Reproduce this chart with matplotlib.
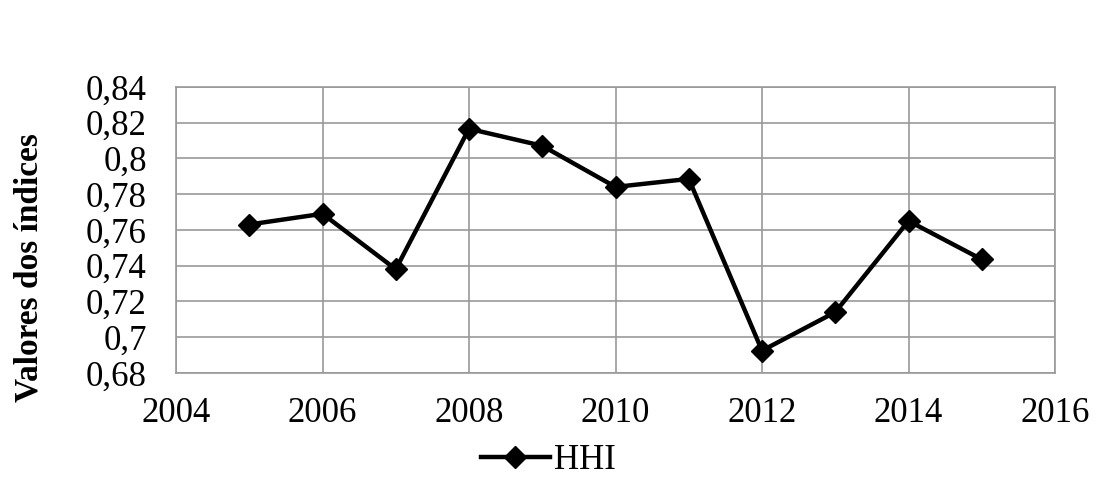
import matplotlib
matplotlib.use("Agg")
import matplotlib.pyplot as plt
from matplotlib.ticker import FuncFormatter

years = [2005, 2006, 2007, 2008, 2009, 2010, 2011, 2012, 2013, 2014, 2015]
hhi = [0.763, 0.769, 0.738, 0.8165, 0.807, 0.784, 0.7885, 0.6925, 0.714, 0.765, 0.7435]

y_ticks = [0.68, 0.70, 0.72, 0.74, 0.76, 0.78, 0.80, 0.82, 0.84]
x_ticks = [2004, 2006, 2008, 2010, 2012, 2014, 2016]

plt.rcParams["font.family"] = ["Liberation Serif", "DejaVu Serif"]

fig = plt.figure(figsize=(10.96, 4.86), dpi=100)
ax = fig.add_axes([0.1606, 0.2325, 0.802, 0.589])

ax.plot(years, hhi, color="black", linewidth=3.2, marker="D", markersize=11,
        label="HHI")

ax.set_xlim(2004, 2016)
ax.set_ylim(0.68, 0.84)
ax.set_xticks(x_ticks)
ax.set_yticks(y_ticks)


def comma_fmt(v, pos):
    s = f"{v:.2f}".rstrip("0").rstrip(".")
    return s.replace(".", ",")


ax.yaxis.set_major_formatter(FuncFormatter(comma_fmt))
ax.tick_params(axis="y", labelsize=25, length=0, pad=21)
ax.tick_params(axis="x", labelsize=25, length=0, pad=17)

ax.grid(True, color="#999999", linewidth=1.2)
ax.set_axisbelow(True)
for sp in ax.spines.values():
    sp.set_color("#999999")
    sp.set_linewidth(1.2)

ax.set_ylabel("Valores dos índices", fontsize=24, fontweight="bold")
ax.yaxis.set_label_coords(-0.150, 0.369)

fig.legend(loc="center", bbox_to_anchor=(0.5, 0.053), frameon=False,
           fontsize=25, handlelength=2.0, handletextpad=0.1, borderpad=0)

fig.savefig("out.png", dpi=100)
